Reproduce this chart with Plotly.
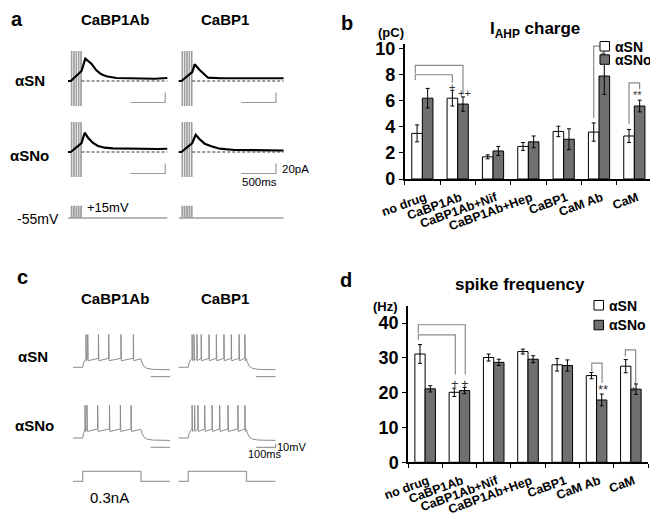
import plotly.graph_objects as go

W, H = 658, 519
FONT = "Liberation Sans"

# ---------------- bar chart data (panels b and d) ----------------
categories = ["no drug", "CaBP1Ab", "CaBP1Ab+Nif", "CaBP1Ab+Hep", "CaBP1", "CaM Ab", "CaM"]
series_names = ["αSN", "αSNo"]

charge_sn = [3.5, 6.2, 1.7, 2.5, 3.65, 3.6, 3.3]
charge_sn_err = [0.65, 0.6, 0.15, 0.3, 0.4, 0.7, 0.5]
charge_sno = [6.2, 5.75, 2.15, 2.85, 3.05, 7.9, 5.6]
charge_sno_err = [0.75, 0.55, 0.35, 0.45, 0.8, 1.4, 0.45]

freq_sn = [31.1, 20.1, 30.1, 31.8, 28.0, 24.9, 27.6]
freq_sn_err = [2.7, 1.2, 1.0, 0.7, 1.8, 0.9, 1.9]
freq_sno = [21.1, 20.6, 28.7, 29.6, 27.8, 17.9, 21.0]
freq_sno_err = [0.9, 0.9, 0.9, 1.0, 1.6, 1.7, 1.5]

charge_ticks = [0, 2, 4, 6, 8, 10]
freq_ticks = [0, 10, 20, 30, 40]

# brackets: (x_left, x_right, y_left_end, y_top, y_right_end)
charge_brackets = [(-0.2, 0.85, 7.6, 8.0, 7.4), (-0.2, 1.15, 8.1, 8.72, 6.6),
                   (4.85, 5.15, 4.7, 10.2, 9.4), (5.85, 6.15, 4.2, 7.37, 6.9)]
freq_brackets = [(-0.2, 0.88, 35.2, 36.6, 25.2), (-0.2, 1.17, 37.0, 39.5, 25.2),
                 (4.86, 5.16, 26.1, 28.5, 22.8), (5.84, 6.14, 30.4, 32.3, 22.8)]
charge_marks = [("+", 0.85, 7.06), ("++", 1.2, 6.6), ("*", 5.12, 9.42), ("**", 6.09, 6.42)]
freq_marks = [("+", 0.88, 22.5), ("+", 1.15, 22.5), ("**", 5.19, 20.8), ("*", 6.09, 20.4)]

# ---------------- panel a: I_AHP current traces (ms, pA rel. baseline) ----------------
ahp_t_sn_ab = [0, 40, 195, 249, 337, 408, 480, 552, 696, 900, 1100, 1250, 1430]
ahp_i_sn_ab = [0, 0, 20, 44.6, 34.6, 21.4, 13.4, 9.4, 6, 5.5, 6, 4.5, 6]
ahp_t_sn_b1 = [0, 40, 195, 230, 302, 374, 422, 600, 800, 1000, 1200, 1510]
ahp_i_sn_b1 = [0, 0, 18, 33.4, 22, 12, 6.6, 5.5, 5, 6, 5.5, 5.5]
ahp_t_sno_ab = [0, 40, 195, 240, 288, 360, 432, 528, 648, 850, 1100, 1300, 1430]
ahp_i_sno_ab = [0, 0, 18, 38.6, 28.6, 18, 12, 8.6, 7.2, 6.5, 6.5, 6, 6.5]
ahp_t_sno_b1 = [0, 40, 195, 245, 302, 374, 470, 590, 800, 1000, 1200, 1510]
ahp_i_sno_b1 = [0, 0, 18, 34.6, 25.4, 16.6, 11.4, 6.6, 4, 3.5, 3.5, 3]

pulse_starts = [48, 82, 116, 150, 184]   # ms
pulse_width = 8                          # ms
cmd_hold_mV, cmd_step_mV = -55, 15
transient_up, transient_down = 60, -50   # pA (clipped capacitive transients)
scale_a_ms, scale_a_pA = 500, 20

# ---------------- panel c: firing traces (ms from step onset, mV) ----------------
spk_sn_ab = [17, 26, 81, 134, 197, 261]
spk_sno_ab = [12, 22, 77, 138, 194, 249]
spk_sn_b1 = [20, 30, 45, 67, 107, 145, 184, 222, 262, 292]
spk_sno_b1 = [20, 33, 50, 85, 123, 162, 205, 256, 292]
v_rest, v_plateau, v_ahp, v_peak = -65, -39, -46, 30
rise_t, rise_v = [0, 4, 8, 14], [-65, -53, -46, -42]
decay_t, decay_v = [300, 304, 315, 330, 360, 450], [-40, -50, -62, -68, -71, -72]
step_ms, onset_ms, total_ms = 300, 50, 500
inj_nA = 0.3
scale_c_ms, scale_c_mV = 100, 10

# ---------------- layout helpers ----------------
def dx(a, b):
    return [a / W, b / W]

def dy(top, bottom):
    return [1 - bottom / H, 1 - top / H]

fig = go.Figure()
GREY_BAR = "#707070"

# ---- bars
bar_sets = [
    ("x", "y", charge_sn, charge_sn_err, charge_sno, charge_sno_err),
    ("x2", "y2", freq_sn, freq_sn_err, freq_sno, freq_sno_err),
]
xpos = list(range(len(categories)))
for xa, ya, v1, e1, v2, e2 in bar_sets:
    for name, vals, errs, col in [(series_names[0], v1, e1, "white"), (series_names[1], v2, e2, GREY_BAR)]:
        fig.add_trace(go.Bar(
            x=xpos, y=vals, name=name, xaxis=xa, yaxis=ya, showlegend=False,
            marker=dict(color=col, line=dict(color="black", width=1)),
            error_y=dict(type="data", array=errs, color="black", thickness=1, width=2),
            hoverinfo="skip"))

for xa, ya, brs in [("x", "y", charge_brackets), ("x2", "y2", freq_brackets)]:
    for xl, xr, yl, yt, yr in brs:
        fig.add_trace(go.Scatter(x=[xl, xl, xr, xr], y=[yl, yt, yt, yr], mode="lines",
                                 xaxis=xa, yaxis=ya, showlegend=False, hoverinfo="skip",
                                 line=dict(color="#8a8a8a", width=1.2)))

annotations = []
for xa, ya, marks, fs in [("x", "y", charge_marks, 11), ("x2", "y2", freq_marks, 13)]:
    for txt_, xv, yv in marks:
        annotations.append(dict(x=xv, y=yv, xref=xa, yref=ya, text=txt_, showarrow=False,
                                font=dict(family=FONT, size=fs, color="#333")))

bar_x_domains = {"x": dx(396.7, 644), "x2": dx(400, 640)}

# ---- panel a traces
col_off_a = {"CaBP1Ab": 72, "CaBP1": 1666}
row_base_a = {"αSN": 214, "αSNo": 72}
ahp = [("αSN", "CaBP1Ab", ahp_t_sn_ab, ahp_i_sn_ab), ("αSN", "CaBP1", ahp_t_sn_b1, ahp_i_sn_b1),
       ("αSNo", "CaBP1Ab", ahp_t_sno_ab, ahp_i_sno_ab), ("αSNo", "CaBP1", ahp_t_sno_b1, ahp_i_sno_b1)]
for row, col, ts, cur in ahp:
    o, b = col_off_a[col], row_base_a[row]
    end = ts[-1]
    tx, ty = [], []
    for p in pulse_starts:
        for tt in (p, p + pulse_width):
            tx += [o + tt, o + tt, None]
            ty += [b + transient_down, b + transient_up, None]
    fig.add_trace(go.Scatter(x=tx, y=ty, mode="lines", xaxis="x3", yaxis="y3", showlegend=False,
                             hoverinfo="skip", line=dict(color="#9a9a9a", width=1)))
    fig.add_trace(go.Scatter(x=[o + 195, o + end], y=[b, b], mode="lines", xaxis="x3", yaxis="y3",
                             showlegend=False, hoverinfo="skip",
                             line=dict(color="black", width=0.8, dash="3px,2px")))
    fig.add_trace(go.Scatter(x=[o + t for t in ts], y=[b + c for c in cur], mode="lines",
                             xaxis="x3", yaxis="y3", showlegend=False, hoverinfo="skip",
                             line=dict(color="black", width=2.2)))
    xe = o + 1400
    fig.add_trace(go.Scatter(x=[xe - scale_a_ms, xe, xe], y=[b - 43, b - 43, b - 43 + scale_a_pA],
                             mode="lines", xaxis="x3", yaxis="y3", showlegend=False, hoverinfo="skip",
                             line=dict(color="#9a9a9a", width=1.2)))

for col, end in [("CaBP1Ab", 1430), ("CaBP1", 1510)]:
    o = col_off_a[col]
    cx, cy = [o], [cmd_hold_mV]
    for p in pulse_starts:
        cx += [o + p, o + p, o + p + pulse_width, o + p + pulse_width]
        cy += [cmd_hold_mV, cmd_step_mV, cmd_step_mV, cmd_hold_mV]
    cx.append(o + end); cy.append(cmd_hold_mV)
    fig.add_trace(go.Scatter(x=cx, y=cy, mode="lines", xaxis="x3", yaxis="y4", showlegend=False,
                             hoverinfo="skip", line=dict(color="#a0a0a0", width=1.3)))

# ---- panel c traces
col_off_c = {"CaBP1Ab": 25.75, "CaBP1": 569.1}
row_off_c = {"αSN": 313.4, "αSNo": 108.5}

def vm_points(spikes):
    t = [0, onset_ms]
    v = [v_rest, v_rest]
    for rt, rv in zip(rise_t[1:], rise_v[1:]):
        if rt < spikes[0] - 1:
            t.append(onset_ms + rt); v.append(rv)
    for s in spikes:
        t += [onset_ms + s - 0.5, onset_ms + s, onset_ms + s + 2]
        v += [v_plateau, v_peak, v_ahp]
    for dt_, dv_ in zip(decay_t, decay_v):
        t.append(onset_ms + dt_); v.append(dv_)
    return t, v

vm = [("αSN", "CaBP1Ab", spk_sn_ab), ("αSN", "CaBP1", spk_sn_b1),
      ("αSNo", "CaBP1Ab", spk_sno_ab), ("αSNo", "CaBP1", spk_sno_b1)]
for row, col, spk in vm:
    o, r = col_off_c[col], row_off_c[row]
    t, v = vm_points(spk)
    fig.add_trace(go.Scatter(x=[o + a for a in t], y=[r + b for b in v], mode="lines",
                             xaxis="x5", yaxis="y5", showlegend=False, hoverinfo="skip",
                             line=dict(color="#8c8c8c", width=1)))
    sx = [o + total_ms - scale_c_ms, o + total_ms]
    sy = [r - 92, r - 92]
    if row == "αSNo" and col == "CaBP1":
        sx.append(o + total_ms); sy.append(r - 92 + scale_c_mV)
    fig.add_trace(go.Scatter(x=sx, y=sy, mode="lines", xaxis="x5", yaxis="y5", showlegend=False,
                             hoverinfo="skip", line=dict(color="#9a9a9a", width=1.2)))

for col in ["CaBP1Ab", "CaBP1"]:
    o = col_off_c[col]
    fig.add_trace(go.Scatter(
        x=[o, o + onset_ms, o + onset_ms, o + onset_ms + step_ms, o + onset_ms + step_ms, o + total_ms],
        y=[0, 0, inj_nA, inj_nA, 0, 0], mode="lines", xaxis="x5", yaxis="y6", showlegend=False,
        hoverinfo="skip", line=dict(color="#a0a0a0", width=1.3)))

# ---------------- texts ----------------
def txt(x, y, s, size, bold=False, xanchor="center", color="black"):
    annotations.append(dict(x=x / W, y=1 - y / H, xref="paper", yref="paper",
                            text=("<b>" + s + "</b>") if bold else s,
                            showarrow=False, xanchor=xanchor, yanchor="middle",
                            font=dict(family=FONT, size=size, color=color)))

txt(9, 11, "a", 20, True); txt(339, 15, "b", 20, True)
txt(14, 269, "c", 20, True); txt(338, 272, "d", 20, True)
txt(107, 12, "CaBP1Ab", 15, True); txt(217, 12, "CaBP1", 15, True)
txt(22, 73, "αSN", 15, True); txt(21, 147, "αSNo", 15, True)
txt(30, 211, "-55mV", 14); txt(100, 200, "+15mV", 13)
txt(272, 161, "20pA", 11.5, xanchor="left"); txt(251, 174, "500ms", 11.5)
txt(107, 290, "CaBP1Ab", 15, True); txt(217, 290, "CaBP1", 15, True)
txt(25, 348, "αSN", 15, True); txt(26, 417, "αSNo", 15, True)
txt(267, 439, "10mV", 11, xanchor="left"); txt(257, 446, "100ms", 11)
txt(101, 489, "0.3nA", 15)
txt(527, 22, "I<sub>AHP</sub> charge", 17, True); txt(383, 25, "(pC)", 13, True)
txt(512, 276, "spike frequency", 17, True); txt(377, 298, "(Hz)", 13, True)

shapes = []
def legend(x0, ytop, gap):
    for i, (nm, col) in enumerate([(series_names[0], "white"), (series_names[1], GREY_BAR)]):
        y0 = ytop + i * gap
        shapes.append(dict(type="rect", xref="paper", yref="paper", x0=x0 / W, x1=(x0 + 9.5) / W,
                           y0=1 - (y0 + 9.5) / H, y1=1 - y0 / H, fillcolor=col,
                           line=dict(color="black", width=1)))
        txt(x0 + 13, y0 + 5, nm, 14, True, xanchor="left")

legend(592, 33.5, 13.3)
legend(586, 292.5, 19.8)

# ---------------- axes ----------------
def bar_x(dom):
    return dict(domain=dom, range=[-0.5, 6.5], tickvals=[p + 0.08 for p in xpos],
                ticktext=categories, tickangle=-20,
                ticks="outside", ticklen=5, tickcolor="rgba(0,0,0,0)",
                showline=True, linecolor="black", linewidth=1.5, showgrid=False,
                zeroline=False, automargin=False,
                tickfont=dict(family=FONT, size=12.5, color="black", weight="bold"),
                minor=dict(ticks="outside", tick0=-0.5, dtick=1, ticklen=4, tickcolor="black",
                           tickwidth=1.2, showgrid=False))

def bar_y(dom, rng, tv):
    return dict(domain=dom, range=rng, tickvals=tv,
                ticks="outside", ticklen=4, tickwidth=1.2,
                tickcolor="black", showline=True, linecolor="black", linewidth=1.5, showgrid=False,
                zeroline=False, automargin=False,
                tickfont=dict(family=FONT, size=18, color="black", weight="bold"))

hid = dict(visible=False, showgrid=False, zeroline=False, fixedrange=True, automargin=False)

fig.update_layout(
    width=W, height=H, margin=dict(l=0, r=0, t=0, b=0, autoexpand=False),
    paper_bgcolor="white", plot_bgcolor="rgba(0,0,0,0)",
    barmode="group", bargap=0.4, bargroupgap=0,
    showlegend=False,
    xaxis=dict(anchor="y", **bar_x(bar_x_domains["x"])),
    yaxis=dict(anchor="x", **bar_y(dy(36.1, 171), [0, 10.35], charge_ticks)),
    xaxis2=dict(anchor="y2", **bar_x(bar_x_domains["x2"])),
    yaxis2=dict(anchor="x2", **bar_y(dy(297.6, 454.3), [0, 45], freq_ticks)),
    xaxis3=dict(domain=dx(55, 285), range=[0, 3312], anchor="y3", **hid),
    yaxis3=dict(domain=dy(35, 180), range=[0, 290], anchor="x3", **hid),
    yaxis4=dict(domain=dy(190, 215), range=[-85, 65], anchor="x3", **hid),
    xaxis5=dict(domain=dx(60, 290), range=[0, 1184.5], anchor="y5", **hid),
    yaxis5=dict(domain=dy(315, 445), range=[0, 376.8], anchor="x5", **hid),
    yaxis6=dict(domain=dy(455, 480), range=[-0.201, 0.549], anchor="x5", **hid),
    annotations=annotations, shapes=shapes,
    font=dict(family=FONT),
)

fig.write_html("out.html")
